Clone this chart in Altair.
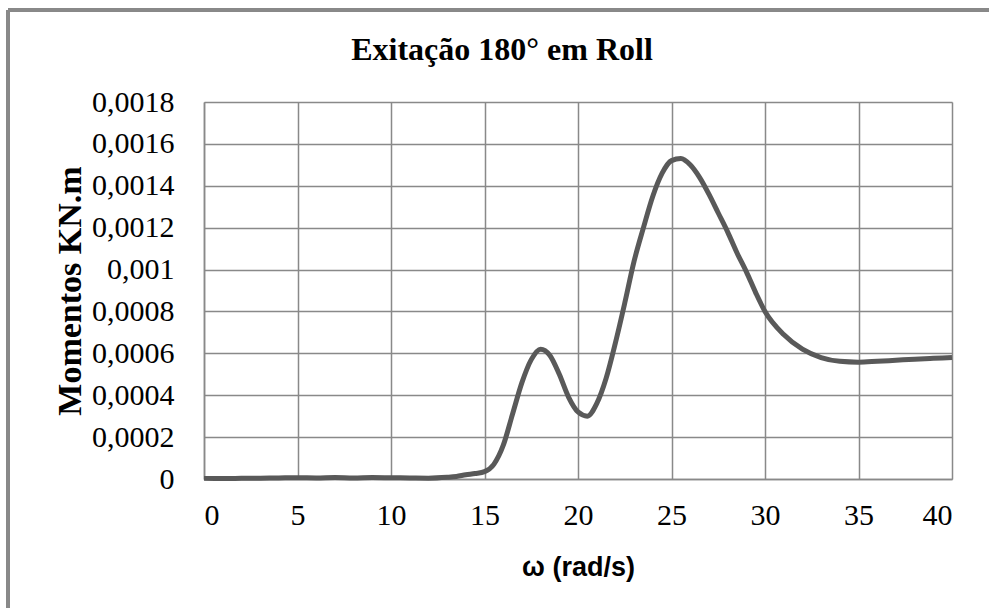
import altair as alt
import pandas as pd

# Frequency (rad/s) and roll moment (kN.m)
omega = [0, 1, 2, 3, 4, 5, 6, 7, 8, 9, 10, 11, 12, 13, 13.5, 14, 14.5, 15, 15.5,
         16, 16.5, 17, 17.5, 18, 18.5, 19, 19.5, 20, 20.5, 21, 21.5, 22, 22.5,
         23, 23.5, 24, 24.5, 25, 25.5, 26, 26.5, 27, 27.5, 28, 28.5, 29, 29.5,
         30, 31, 32, 33, 34, 35, 36, 37, 38, 39, 40]
moment = [0.000003, 0.000002, 0.000003, 0.000004, 0.000005, 0.000006, 0.000005,
          0.000007, 0.000005, 0.000007, 0.000006, 0.000005, 0.000004, 0.000008,
          0.000012, 0.00002, 0.000026, 0.000035, 0.00007,
          0.00016, 0.00031, 0.00046, 0.00057, 0.00062, 0.00059, 0.0005, 0.00039,
          0.00032, 0.0003, 0.00036, 0.00048, 0.00065, 0.00084,
          0.00104, 0.0012, 0.00135, 0.00146, 0.00152, 0.00153, 0.0015, 0.00144,
          0.00136, 0.00127, 0.00118, 0.00108, 0.00099, 0.00089,
          0.0008, 0.00069, 0.00062, 0.00058, 0.000562, 0.000558, 0.000562,
          0.000567, 0.000572, 0.000576, 0.00058]

x_ticks = [0, 5, 10, 15, 20, 25, 30, 35, 40]
y_ticks = [0, 0.0002, 0.0004, 0.0006, 0.0008, 0.001, 0.0012, 0.0014, 0.0016, 0.0018]
chart_title = ["Exitação 180° em Roll"]

df = pd.DataFrame({"omega": omega, "moment": moment})

GRID = "#898989"
SERIF = "Liberation Serif"

line = alt.Chart(df).mark_line(
    color="#595959", strokeWidth=5, interpolate="monotone"
).encode(
    x=alt.X("omega:Q",
            scale=alt.Scale(domain=[0, 40], nice=False),
            axis=alt.Axis(values=x_ticks, title="ω (rad/s)",
                          titleFont="Liberation Sans", titleFontSize=27,
                          titleFontWeight="bold", titleColor="black",
                          titlePadding=24,
                          labelFont=SERIF, labelFontSize=30, labelColor="black",
                          labelPadding=21, ticks=False,
                          grid=True, gridColor=GRID, gridWidth=1.5,
                          domainColor=GRID, domainWidth=1.5)),
    y=alt.Y("moment:Q",
            scale=alt.Scale(domain=[0, 0.0018], nice=False),
            axis=alt.Axis(values=y_ticks, title="Momentos KN.m",
                          titleFont=SERIF, titleFontSize=34,
                          titleFontWeight="bold", titleColor="black",
                          titlePadding=4,
                          labelFont=SERIF, labelFontSize=30, labelColor="black",
                          labelPadding=30, ticks=False,
                          labelExpr="replace(toString(datum.value), '.', ',')",
                          grid=True, gridColor=GRID, gridWidth=1.5,
                          domainColor=GRID, domainWidth=1.5)),
)

# Chart heading, centred over the whole frame
heading = alt.Chart(pd.DataFrame({"t": chart_title})).mark_text(
    font=SERIF, fontSize=32, fontWeight="bold", color="black",
    align="center", baseline="alphabetic"
).encode(text="t:N", x=alt.value(298), y=alt.value(-42))

# Outer frame of the chart area (left and top edges)
frame_left = alt.Chart(df).mark_rule(color=GRID, strokeWidth=2.5).encode(
    x=alt.value(-196), y=alt.value(-92), y2=alt.value(620))
frame_top = alt.Chart(df).mark_rule(color=GRID, strokeWidth=2.5).encode(
    x=alt.value(-196), x2=alt.value(900), y=alt.value(-92))

chart = alt.layer(frame_left, frame_top, heading, line).properties(
    width=748, height=377,
    autosize=alt.AutoSizeParams(type="none"),
    padding={"left": 204, "top": 102, "right": 37, "bottom": 129},
).configure_view(stroke=GRID, strokeWidth=1.5).configure(background="white")

chart.save("out.html", embed_options={"renderer": "svg", "actions": False})
